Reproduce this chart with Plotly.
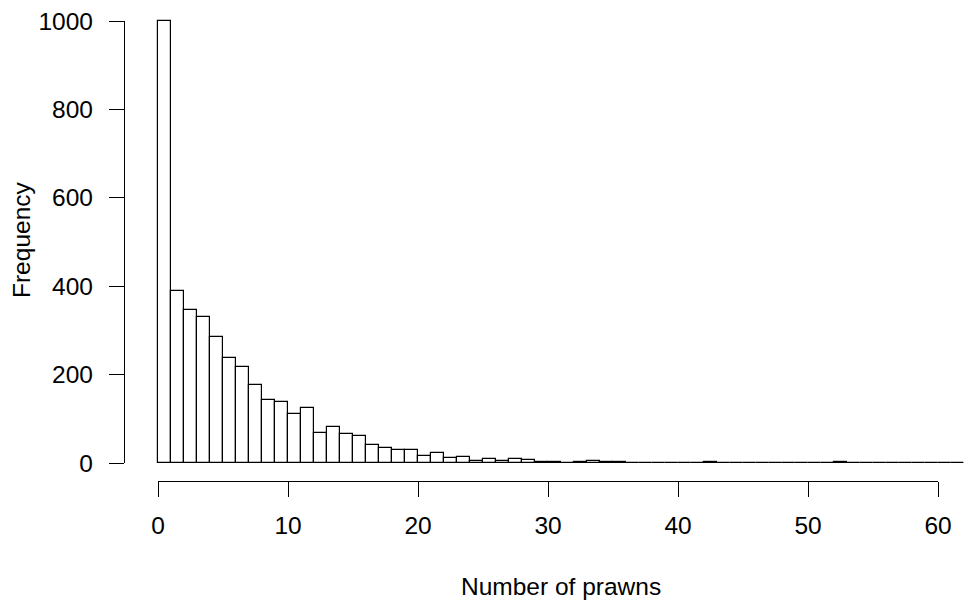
import plotly.graph_objects as go

# Histogram data: counts per unit bin [k, k+1)
bin_left = list(range(0, 62))
counts = [1000, 390, 346, 330, 285, 238, 218, 177, 143, 139,
          112, 124, 69, 81, 65, 60, 41, 33, 30, 30,
          16, 23, 11, 13, 5, 10, 5, 8, 6, 2,
          2, 0, 2, 5, 2, 2, 0, 0, 0, 0,
          0, 0, 2, 0, 0, 0, 0, 0, 0, 0,
          0, 0, 2, 0, 0, 0, 0, 0, 0, 0,
          0, 0]
y_ticks = [0, 200, 400, 600, 800, 1000]
x_ticks = [0, 10, 20, 30, 40, 50, 60]

FONT = "Arial, Liberation Sans, sans-serif"
FS = 24.5
W, H = 970, 614
L, R, T, B = 124, 0, 15, 133
pw = W - L - R
ph = H - T - B
x_px0 = 158.0    # pixel for x=0
x_scale = 13.0   # px per unit
y_px0, y_px1000 = 463.0, 21.0
xr = [(L - x_px0) / x_scale, (W - R - x_px0) / x_scale]
ytop_val = 1000 * (y_px0 - T) / (y_px0 - y_px1000)

fig = go.Figure()
fig.add_trace(go.Bar(
    x=[b + 0.5 for b in bin_left], y=counts, width=1,
    marker=dict(color="white", line=dict(color="black", width=1.2)),
    xaxis="x", yaxis="y", showlegend=False, hoverinfo="x+y",
))
fig.add_trace(go.Scatter(x=[], y=[], xaxis="x2", yaxis="y2", showlegend=False))

ydom0 = (H - B - y_px0) / ph
y2dom1 = (H - B - y_px1000) / ph
x2d0 = (x_px0 - L) / pw
x2d1 = (x_px0 + 60 * x_scale - L) / pw

axis_common = dict(showline=True, linecolor="black", linewidth=1.2,
                   ticks="outside", ticklen=15, tickwidth=1.2, tickcolor="black",
                   showgrid=False, zeroline=False, automargin=False,
                   tickfont=dict(size=FS, family=FONT, color="black"))

fig.update_layout(
    width=W, height=H, autosize=False,
    margin=dict(l=L, r=R, t=T, b=B, pad=0),
    paper_bgcolor="white", plot_bgcolor="rgba(0,0,0,0)",
    font=dict(family=FONT, size=FS, color="black"),
    bargap=0,
    xaxis=dict(range=xr, domain=[0, 1], visible=False, fixedrange=True),
    yaxis=dict(range=[0, ytop_val], domain=[ydom0, 1], visible=False, fixedrange=True),
    xaxis2=dict(range=[0, 60], domain=[x2d0, x2d1], anchor="free", position=0,
                tickvals=x_ticks, ticklabelstandoff=7, **axis_common),
    yaxis2=dict(range=[0, 1000], domain=[ydom0, y2dom1], anchor="free", position=0,
                tickvals=y_ticks, ticklabelstandoff=11, **axis_common),
    annotations=[
        dict(text="Number of prawns", xref="paper", yref="paper",
             x=(561 - L) / pw, y=(H - B - 586) / ph, xanchor="center", yanchor="middle",
             showarrow=False, font=dict(size=FS, family=FONT)),
        dict(text="Frequency", xref="paper", yref="paper", textangle=-90,
             x=(21 - L) / pw, y=(H - B - 240) / ph, xanchor="center", yanchor="middle",
             showarrow=False, font=dict(size=FS, family=FONT)),
    ],
)

fig.write_html("out.html")
